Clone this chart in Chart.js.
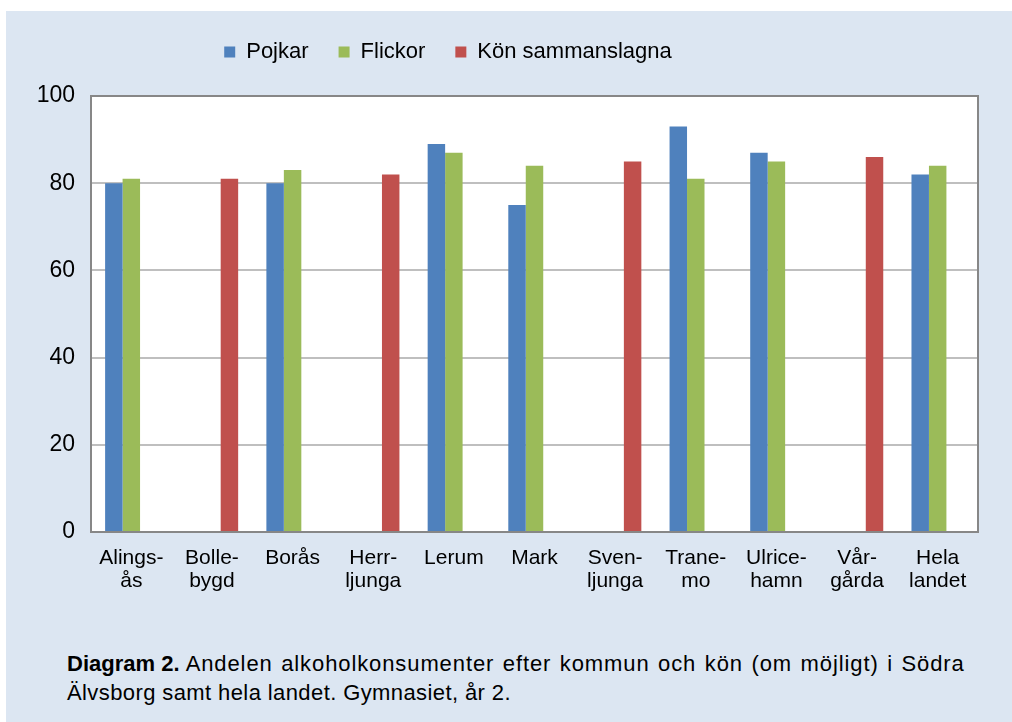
<!DOCTYPE html>
<html lang="sv">
<head>
<meta charset="utf-8">
<title>Diagram 2</title>
<script src="https://cdn.jsdelivr.net/npm/chart.js@4/dist/chart.umd.min.js"></script>
<style>
  html, body { margin: 0; padding: 0; background: #fff; }
  #panel {
    position: absolute; left: 6px; top: 11px;
    width: 1006px; height: 711px;
    background: #dce6f2;
  }
  #chart { position: absolute; left: 0; top: 0; }
  #caption {
    position: absolute; left: 61px; top: 638px;
    width: 940px;
    font-family: "Liberation Sans", Arial, sans-serif;
    font-size: 22px; line-height: 29px; color: #000;
    white-space: nowrap;
  }
  #caption .l1 { letter-spacing: 0.9px; word-spacing: 1.5px; }
  #caption .l2 { letter-spacing: 0.4px; }
</style>
</head>
<body>
<div id="panel">
  <canvas id="chart" width="1006" height="609"></canvas>
  <div id="caption"><b>Diagram 2.</b> <span class="l1">Andelen alkoholkonsumenter efter kommun och kön (om möjligt) i Södra</span><br><span class="l2">Älvsborg samt hela landet. Gymnasiet, år 2.</span></div>
</div>
<script>
// --- data ---
const kommuner = [
  ["Alings-", "ås"], ["Bolle-", "bygd"], "Borås", ["Herr-", "ljunga"], "Lerum", "Mark",
  ["Sven-", "ljunga"], ["Trane-", "mo"], ["Ulrice-", "hamn"], ["Vår-", "gårda"], ["Hela", "landet"]
]
const pojkar  = [80, null, 80, null, 89, 75, null, 93, 87, null, 82]
const flickor = [81, null, 83, null, 87, 84, null, 81, 85, null, 84]
const sammanslagna = [null, 81, null, 82, null, null, 85, null, null, 86, null]
const yTicks = [0, 20, 40, 60, 80, 100]

Chart.defaults.font.family = "'Liberation Sans', Arial, sans-serif"
Chart.defaults.color = "#000"

// white plot area + grey frame like the Excel original
const plotFrame = {
  id: "plotFrame",
  beforeDraw(chart) {
    const { ctx, chartArea: a } = chart
    ctx.save()
    ctx.fillStyle = "#fff"
    ctx.fillRect(a.left, a.top, a.right - a.left, a.bottom - a.top)
    ctx.restore()
  },
  afterDatasetsDraw(chart) {
    const { ctx, chartArea: a } = chart
    ctx.save()
    ctx.strokeStyle = "#878787"
    ctx.lineWidth = 2
    ctx.strokeRect(a.left, a.top, a.right - a.left, a.bottom - a.top)
    ctx.restore()
  },
}

// legend: extra room below it, and shifted left as in the original
const legendTweak = {
  id: "legendTweak",
  beforeInit(chart) {
    const fit = chart.legend.fit
    chart.legend.fit = function () {
      fit.call(this)
      this.height += 23
    }
  },
  afterLayout(chart) {
    chart.legend.left -= 44
    chart.legend.right -= 44
  },
}

new Chart(document.getElementById("chart"), {
  type: "bar",
  data: {
    labels: kommuner,
    datasets: [
      { label: "Pojkar", data: pojkar, backgroundColor: "#4f81bd" },
      { label: "Flickor", data: flickor, backgroundColor: "#9bbb59" },
      { label: "Kön sammanslagna", data: sammanslagna, backgroundColor: "#c0504d" },
    ],
  },
  options: {
    responsive: false,
    animation: false,
    categoryPercentage: 0.65,
    barPercentage: 1,
    layout: { padding: { left: 0, right: 34, top: 0, bottom: 0 } },
    plugins: {
      legend: {
        position: "top",
        labels: { boxWidth: 11, boxHeight: 11, padding: 30, font: { size: 22 }, color: "#000" },
      },
      tooltip: { enabled: false },
    },
    scales: {
      x: {
        grid: { display: false, drawTicks: false },
        border: { display: false },
        ticks: { font: { size: 21, lineHeight: 1.13 }, padding: 14, maxRotation: 0, autoSkip: false },
        afterFit(scale) { scale.height = 88 },
      },
      y: {
        min: 0,
        max: 100,
        afterBuildTicks(scale) { scale.ticks = yTicks.map(v => ({ value: v })) },
        grid: { color: "#bfbfbf", lineWidth: 2, drawTicks: false },
        border: { display: false },
        ticks: { font: { size: 23 }, padding: 16 },
        afterFit(scale) { scale.width = 85 },
      },
    },
  },
  plugins: [plotFrame, legendTweak],
})
</script>
</body>
</html>
